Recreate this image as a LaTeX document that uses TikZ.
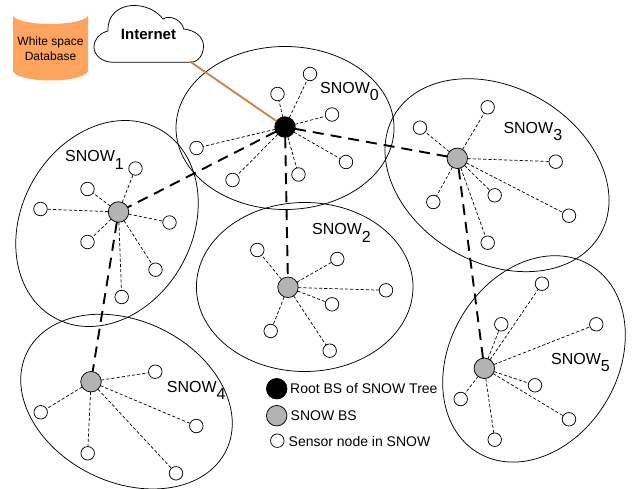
\documentclass[tikz,border=0pt]{standalone}
\usepackage{fontspec}
\setmainfont{Liberation Sans}
\usetikzlibrary{shapes.geometric}
\definecolor{dbfill}{HTML}{FFA45E}
\definecolor{wire}{HTML}{C98240}
\definecolor{bsgray}{HTML}{B3B3B3}
\tikzset{
 sensor/.style={circle,draw=black,fill=white,line width=0.75pt,minimum size=13.5pt,inner sep=0pt,outer sep=0pt},
 basest/.style={circle,draw=black,fill=bsgray,line width=0.75pt,minimum size=20.5pt,inner sep=0pt,outer sep=0pt},
 rootbs/.style={basest,fill=black},
 zone/.style={ellipse,draw=black,line width=0.75pt,inner sep=0pt,outer sep=0pt},
 thinlink/.style={draw=black,line width=0.7pt,dash pattern=on 3.2pt off 2pt},
 thicklink/.style={draw=black,line width=1.9pt,dash pattern=on 11pt off 7pt},
 snowlab/.style={anchor=base west,inner sep=0pt,font=\fontsize{16}{16}\selectfont},
 leglab/.style={anchor=west,inner sep=0pt,font=\fontsize{14}{14}\selectfont},
}
\newcommand{\snowsub}[1]{SNOW\raisebox{-7.5pt}{#1}}
\begin{document}
\begin{tikzpicture}[x=1pt,y=-1pt]
\useasboundingbox (0,0) rectangle (635,489);
% zones
\node[zone,minimum width=218pt,minimum height=163pt] (z0) at (285,128) {};
\node[zone,minimum width=215.8pt,minimum height=170.8pt,rotate=60.8] (z1) at (107,223.5) {};
\node[zone,minimum width=216.6pt,minimum height=169pt] (z2) at (304.7,287) {};
\node[zone,minimum width=238pt,minimum height=175.4pt,rotate=-30] (z3) at (497,175.2) {};
\node[zone,minimum width=222pt,minimum height=161.2pt,rotate=-26.2] (z4) at (126.5,401.6) {};
\node[zone,minimum width=218.6pt,minimum height=167.8pt,rotate=59] (z5) at (534,358.9) {};
% base stations
\node[rootbs] (b0) at (285,127) {};
\node[basest] (b1) at (118.5,212) {};
\node[basest] (b2) at (288,287.3) {};
\node[basest] (b3) at (457.3,158.3) {};
\node[basest] (b4) at (91,381.7) {};
\node[basest] (b5) at (484.3,368.3) {};
% sensors
\foreach \n/\p/\b in {
 a1/{310,74}/b0,a2/{277.5,94}/b0,a3/{196.5,148}/b0,a4/{232.5,180}/b0,a5/{298.5,174.5}/b0,a6/{332,114.5}/b0,a7/{346,162}/b0,
 c1/{135.5,168.5}/b1,c2/{87.5,189}/b1,c3/{40.5,209}/b1,c4/{169.5,222.5}/b1,c5/{87.5,242}/b1,c6/{155.5,269.7}/b1,c7/{121.7,297}/b1,
 d1/{257.3,250}/b2,d2/{270.7,331}/b2,d3/{337.3,259}/b2,d4/{386,290.3}/b2,d5/{332,304.3}/b2,d6/{329.7,350.7}/b2,
 e1/{487.7,107.3}/b3,e2/{420,127.7}/b3,e3/{555.7,161.7}/b3,e4/{494.7,195.3}/b3,e5/{433.3,202}/b3,e6/{569,215.7}/b3,e7/{487.7,242.7}/b3,
 f1/{155.3,371.7}/b4,f2/{40.7,412.3}/b4,f3/{196.3,426}/b4,f4/{87.7,453.3}/b4,f5/{176,473.3}/b4,
 g1/{542,283.7}/b5,g2/{501.3,324.3}/b5,g3/{596.3,324.3}/b5,g4/{535,385.3}/b5,g5/{460.7,399}/b5,g6/{569,419.3}/b5,g7/{494.7,439.7}/b5}{
  \node[sensor] (\n) at (\p) {};
  \draw[thinlink] (\b) -- (\n);
}
% tree links
\draw[thicklink] (b0) -- (b1);
\draw[thicklink] (b0) -- (b2);
\draw[thicklink] (b0) -- (b3);
\draw[thicklink] (b1) -- (b4);
\draw[thicklink] (b3) -- (b5);
% database
\fill[dbfill] (13,15) arc[start angle=180,end angle=0,x radius=37.5,y radius=9] -- (88,70.5) arc[start angle=0,end angle=180,x radius=37.5,y radius=10] -- cycle;
\draw[white,line width=1.2pt] (13,15) arc[start angle=180,end angle=360,x radius=37.5,y radius=9];
\node[inner sep=0pt,align=center,font=\fontsize{12}{15}\selectfont] (db) at (50.5,49) {White space\\Database};
% cloud
\draw[black,fill=white,line width=0.75pt] (113,62.3) -- (190,62.3)
 .. controls (199,62.3) and (203.5,54) .. (203.5,46)
 .. controls (203.5,37) and (195,30) .. (183.5,29)
 .. controls (183,21) and (170,14) .. (163,19)
 .. controls (156,10) and (145,5.5) .. (134,5.5)
 .. controls (118,5.5) and (107,16) .. (108,31)
 .. controls (100,33) and (94,39) .. (94,47)
 .. controls (94,56) and (103,62.3) .. (113,62.3) -- cycle;
\node[inner sep=0pt,font=\bfseries\fontsize{15}{15}\selectfont,anchor=base] (inet) at (148.5,39.5) {Internet};
\coordinate (cloudfoot) at (190,61.5);
\draw[wire,line width=1.8pt] (cloudfoot) -- (b0);
% labels
\node[snowlab] (l0) at (320,93.3) {\snowsub{0}};
\node[snowlab] (l1) at (65,161.7) {\snowsub{1}};
\node[snowlab] (l2) at (312,235) {\snowsub{2}};
\node[snowlab] (l3) at (503.3,133.3) {\snowsub{3}};
\node[snowlab] (l4) at (166.7,392.3) {\snowsub{4}};
\node[snowlab] (l5) at (551,364) {\snowsub{5}};
% legend
\node[rootbs] (k0) at (276.7,388.7) {};
\node[basest] (k1) at (276.7,415.7) {};
\node[sensor] (k2) at (277.3,440.7) {};
\node[leglab] (t0) at (290,389) {Root BS of SNOW Tree};
\node[leglab] (t1) at (290.5,416) {SNOW BS};
\node[leglab] (t2) at (288.5,441) {Sensor node in SNOW};
\end{tikzpicture}
\end{document}
